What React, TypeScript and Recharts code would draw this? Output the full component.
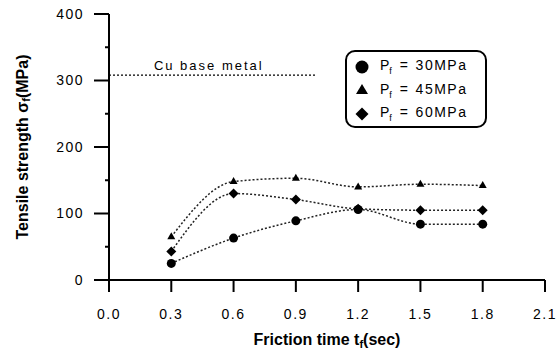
import React from "react";
import { LineChart, Line, XAxis, YAxis, ReferenceLine, Legend, Label } from "recharts";

const times = [0.3, 0.6, 0.9, 1.2, 1.5, 1.8];
const p30 = [25, 63, 89, 106, 84, 84];
const p45 = [65, 148, 153, 140, 144, 142];
const p60 = [43, 130, 121, 107, 105, 105];
const xTicks = [0, 0.3, 0.6, 0.9, 1.2, 1.5, 1.8, 2.1];
const yTicks = [0, 50, 100, 150, 200, 250, 300, 350, 400];
const baseMetal = 308;
const baseMetalEnd = 1.0;
const pressures = ["30", "45", "60"];

const data = times.map((t, i) => ({ t, p30: p30[i], p45: p45[i], p60: p60[i] }));

const FONT = '"Liberation Sans", Arial, Helvetica, sans-serif';

const CircleDot = (props: any) => {
  const { cx, cy } = props;
  return <circle cx={cx} cy={cy} r={4.5} fill="#000" />;
};
const TriangleDot = (props: any) => {
  const { cx, cy } = props;
  return <path d={`M${cx},${cy - 4.5}L${cx + 4},${cy + 2.5}L${cx - 4},${cy + 2.5}Z`} fill="#000" />;
};
const DiamondDot = (props: any) => {
  const { cx, cy } = props;
  return <path d={`M${cx},${cy - 5}L${cx + 5},${cy}L${cx},${cy + 5}L${cx - 5},${cy}Z`} fill="#000" />;
};

// major ticks every 100 with labels, short minor ticks at the 50s
const YTick = (props: any) => {
  const { x, y, payload } = props;
  const major = payload.value % 100 === 0;
  const axisX = x + 26;
  return (
    <g>
      <line x1={major ? axisX - 15 : axisX - 4} x2={axisX} y1={y} y2={y} stroke="#000" strokeWidth={2} />
      {major && (
        <text
          x={x + 1}
          y={y}
          dy="0.35em"
          textAnchor="end"
          fontSize={14}
          letterSpacing={1.5}
          fontFamily={FONT}
          fill="#000"
        >
          {payload.value}
        </text>
      )}
    </g>
  );
};

const markers = [
  (x: number, y: number) => <circle cx={x} cy={y} r={6.5} fill="#000" />,
  (x: number, y: number) => <path d={`M${x},${y - 6}L${x + 6},${y + 4}L${x - 6},${y + 4}Z`} fill="#000" />,
  (x: number, y: number) => <path d={`M${x},${y - 6.5}L${x + 6.5},${y}L${x},${y + 6.5}L${x - 6.5},${y}Z`} fill="#000" />,
];

const LegendBox = () => (
  <div
    style={{
      border: "2px solid #000",
      borderRadius: 10,
      background: "#fff",
      padding: "3px 0 3px 6px",
      fontFamily: FONT,
      fontSize: 14,
      color: "#000",
      boxSizing: "border-box",
      width: 142,
      height: 78,
    }}
  >
    {pressures.map((p, i) => (
      <div key={p} style={{ display: "flex", alignItems: "center", height: 23.5 }}>
        <svg width={18} height={16} style={{ marginRight: 9 }}>
          {markers[i](9, 8)}
        </svg>
        <span style={{ whiteSpace: "pre" }}>
          P<sub style={{ fontSize: 9 }}>f</sub>
          {"  =  "}
          <span style={{ letterSpacing: 1.5 }}>{p}MPa</span>
        </span>
      </div>
    ))}
  </div>
);

const YTitle = (props: any) => {
  const { viewBox } = props;
  const cy = viewBox.y + viewBox.height / 2;
  return (
    <text
      x={22}
      y={cy}
      transform={`rotate(-90 22 ${cy})`}
      textAnchor="middle"
      dominantBaseline="central"
      fontSize={16}
      fontWeight="bold"
      fontFamily={FONT}
      fill="#000"
    >
      Tensile strength σ<tspan fontSize={11} dy={4}>f</tspan>
      <tspan dy={-4}>(MPa)</tspan>
    </text>
  );
};

const XTitle = (props: any) => {
  const { viewBox } = props;
  const cx = viewBox.x + viewBox.width / 2;
  return (
    <text x={cx} y={345} textAnchor="middle" fontSize={16} fontWeight="bold" fontFamily={FONT} fill="#000">
      Friction time  t<tspan fontSize={11} dy={3}>f</tspan>
      <tspan dy={-3}>(sec)</tspan>
    </text>
  );
};

export default function App() {
  return (
    <div style={{ position: "fixed", left: 0, top: 0, background: "#fff" }}>
      <LineChart width={559} height={353} data={data} margin={{ top: 14, right: 14, bottom: 0, left: 0 }}>
        <XAxis
          dataKey="t"
          type="number"
          domain={[0, 2.1]}
          ticks={xTicks}
          tickFormatter={(v: number) => v.toFixed(1)}
          height={73}
          tickSize={12}
          tickMargin={17}
          axisLine={{ stroke: "#000", strokeWidth: 2 }}
          tickLine={{ stroke: "#000", strokeWidth: 2 }}
          tick={{ fontSize: 14, fill: "#000", fontFamily: FONT, letterSpacing: 1.5 }}
        >
          <Label content={XTitle} />
        </XAxis>
        <XAxis
          xAxisId="top"
          orientation="top"
          type="number"
          domain={[0, 2.1]}
          height={0}
          tick={false}
          tickLine={false}
          axisLine={{ stroke: "#000", strokeWidth: 2 }}
        />
        <YAxis
          type="number"
          domain={[0, 400]}
          ticks={yTicks}
          interval={0}
          width={109}
          tickSize={15}
          tickMargin={11}
          tickLine={false}
          axisLine={{ stroke: "#000", strokeWidth: 2 }}
          tick={<YTick />}
        >
          <Label content={YTitle} />
        </YAxis>
        <YAxis
          yAxisId="right"
          orientation="right"
          domain={[0, 400]}
          width={0}
          tick={false}
          tickLine={false}
          axisLine={{ stroke: "#000", strokeWidth: 2 }}
        />
        <ReferenceLine
          segment={[
            { x: 0, y: baseMetal },
            { x: baseMetalEnd, y: baseMetal },
          ]}
          stroke="#000"
          strokeWidth={1.3}
          strokeDasharray="2 2"
          label={{
            value: "Cu base metal",
            position: "top",
            offset: 5,
            dx: -4,
            fontSize: 13,
            fill: "#000",
            fontFamily: FONT,
            letterSpacing: 2,
          }}
        />
        <Legend
          layout="vertical"
          align="center"
          verticalAlign="middle"
          content={<LegendBox />}
          wrapperStyle={{ left: 345, top: 50, width: 142, height: 78 }}
        />
        <Line
          type="monotone"
          dataKey="p30"
          stroke="#222"
          strokeWidth={1.5}
          strokeDasharray="2 2"
          dot={<CircleDot />}
          isAnimationActive={false}
        />
        <Line
          type="monotone"
          dataKey="p45"
          stroke="#222"
          strokeWidth={1.5}
          strokeDasharray="2 2"
          dot={<TriangleDot />}
          isAnimationActive={false}
        />
        <Line
          type="monotone"
          dataKey="p60"
          stroke="#222"
          strokeWidth={1.5}
          strokeDasharray="2 2"
          dot={<DiamondDot />}
          isAnimationActive={false}
        />
      </LineChart>
    </div>
  );
}
